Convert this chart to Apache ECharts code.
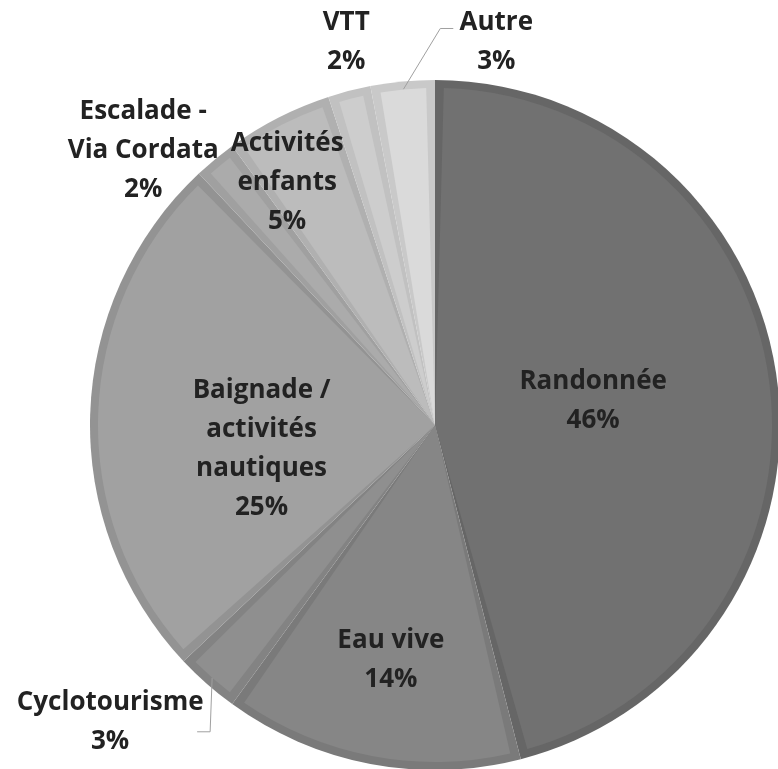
<!DOCTYPE html>
<html>
<head>
  <meta charset="UTF-8">
  <title>Activités</title>
  <script src="https://cdn.jsdelivr.net/npm/echarts@6/dist/echarts.min.js"></script>
</head>
<body style="margin:0;background:#fff">
  <div id="main" style="width:778px;height:769px"></div>
  <script>
    // données
    var names = ['Randonnée', 'Eau vive', 'Cyclotourisme', 'Baignade /\nactivités\nnautiques',
      'Escalade -\nVia Cordata', 'Activités\nenfants', 'VTT', 'Autre'];
    var values = [46, 14, 3, 25, 2, 5, 2, 3];
    var fillColors = ['#717171', '#868686', '#8f8f8f', '#a1a1a1', '#ababab', '#bcbcbc', '#cdcdcd', '#dadada'];
    var borderColors = ['#666666', '#7a7a7a', '#838383', '#939393', '#a0a0a0', '#b0b0b0', '#c1c1c1', '#c9c9c9'];
    var outside = [false, false, true, false, true, false, true, true];

    // décalage des étiquettes (intérieures : dx/dy, extérieures : par rapport au bord)
    var labelShift = [[-12, -2], [-12, 67], [-102, 44], [-2, 29], [-77, -15], [-70, -90], [-5, -56], [93, -47]];
    var linePts = {
      2: [[-2, 54], [-15, 54]],
      7: [[37, -61], [50, -61]]
    };

    var chart = echarts.init(document.getElementById('main'));

    var underData = names.map(function (n, i) {
      return { name: n, value: values[i], itemStyle: { color: borderColors[i] } };
    });
    var topData = names.map(function (n, i) {
      return {
        name: n, value: values[i],
        itemStyle: { color: fillColors[i] },
        label: { position: outside[i] ? 'outside' : 'inside' },
        labelLine: { show: !!linePts[i] }
      };
    });

    chart.setOption({
      backgroundColor: '#fff',
      animation: false,
      series: [
        {
          type: 'pie',
          center: [435, 425],
          radius: [0, 345],
          startAngle: 90,
          silent: true,
          label: { show: false },
          labelLine: { show: false },
          data: underData
        },
        {
          type: 'pie',
          z: 3,
          center: [435, 425],
          radius: [0, 337],
          startAngle: 90,
          padAngle: 3,
          silent: true,
          avoidLabelOverlap: false,
          label: {
            show: true,
            formatter: '{b}\n{d}%',
            fontFamily: 'Open Sans',
            fontWeight: 'bold',
            fontSize: 26,
            lineHeight: 39,
            color: '#222222',
            align: 'center'
          },
          labelLine: { lineStyle: { color: '#a0a0a0', width: 1 } },
          labelLayout: function (p) {
            var i = p.dataIndex;
            var s = labelShift[i];
            if (!outside[i]) return { dx: s[0], dy: s[1] };
            var p0 = p.labelLinePoints ? p.labelLinePoints[0] : [0, 0];
            var res = {
              x: p0[0] + s[0], y: p0[1] + s[1],
              align: 'center', verticalAlign: 'middle'
            };
            if (linePts[i]) {
              res.labelLinePoints = [p0].concat(linePts[i].map(function (d) {
                return [p0[0] + d[0], p0[1] + d[1]];
              }));
            }
            return res;
          },
          data: topData
        }
      ]
    });
  </script>
</body>
</html>
